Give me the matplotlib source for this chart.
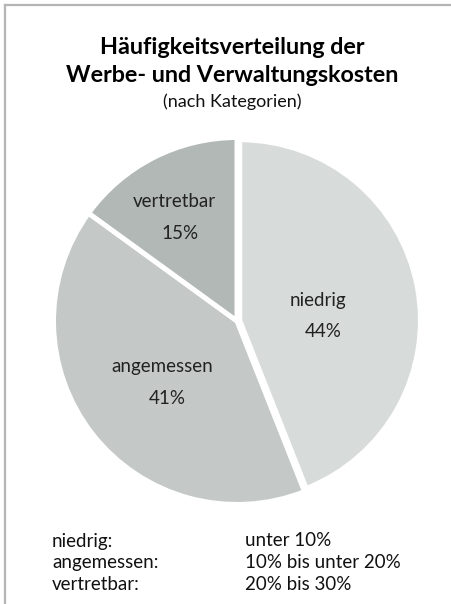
import numpy as np
import matplotlib
matplotlib.use("Agg")
from matplotlib import pyplot as plt
from matplotlib.lines import Line2D

plt.rcParams['font.family'] = ['Lato', 'DejaVu Sans']

# data
categories = ['niedrig', 'angemessen', 'vertretbar']
shares = [44, 41, 15]
colors = ['#d7dbda', '#c4c9c8', '#b1b8b5']
label_dist = [0.458, 0.518, 0.65]
label_shift = [-7.4, 2.5, 2.9]   # degrees, nudge along the arc
ranges = ['unter 10%', '10% bis unter 20%', '20% bis 30%']

W, H = 451, 604
fig = plt.figure(figsize=(W / 100, H / 100), dpi=100)

# frame lines top and left
fig.add_artist(Line2D([5 / W, 1], [1 - 5 / H, 1 - 5 / H], color='#b4b4b4', lw=1.6))
fig.add_artist(Line2D([5 / W, 5 / W], [0, 1 - 5 / H], color='#b4b4b4', lw=1.6))

cx, cy, r = 237, 321, 183.5
ax = fig.add_axes([(cx - r) / W, 1 - (cy + r) / H, 2 * r / W, 2 * r / H])
wedges, _ = ax.pie(shares, colors=colors, startangle=90, counterclock=False,
                   explode=[0.015, 0, 0],
                   wedgeprops=dict(edgecolor='white', linewidth=3.6))
wedges[0].set_radius(0.985)
ax.set_xlim(-1.0, 1.0)
ax.set_ylim(-1.0, 1.0)
ax.set_aspect('equal')
ax.axis('off')

for w, name, val, d, s in zip(wedges, categories, shares, label_dist, label_shift):
    mid = np.deg2rad((w.theta1 + w.theta2) / 2 + s)
    x, y = d * np.cos(mid), d * np.sin(mid)
    ax.text(x - 0.015, y + 0.086, name, ha='center', va='center', fontsize=13.5, color='#222222')
    ax.text(x + 0.015, y - 0.086, f'{val}%', ha='center', va='center', fontsize=13.5, color='#222222')

# titles
fig.text(232 / W, 1 - 48 / H, 'Häufigkeitsverteilung der', ha='center', va='center',
         fontsize=16.8, color='black', fontweight='bold')
fig.text(232 / W, 1 - 76 / H, 'Werbe- und Verwaltungskosten', ha='center', va='center',
         fontsize=16.8, color='black', fontweight='bold')
fig.text(232 / W, 1 - 102 / H, '(nach Kategorien)', ha='center', va='center',
         fontsize=13, color='#111111')

# legend of ranges
for i, (name, rng) in enumerate(zip(categories, ranges)):
    yy = 1 - (541 + 21.5 * i) / H
    fig.text(52 / W, yy, name + ':', ha='left', va='center', fontsize=13.5, color='#111111')
    fig.text(245 / W, yy, rng, ha='left', va='center', fontsize=13.5, color='#111111')

fig.savefig('out.png', dpi=100)
